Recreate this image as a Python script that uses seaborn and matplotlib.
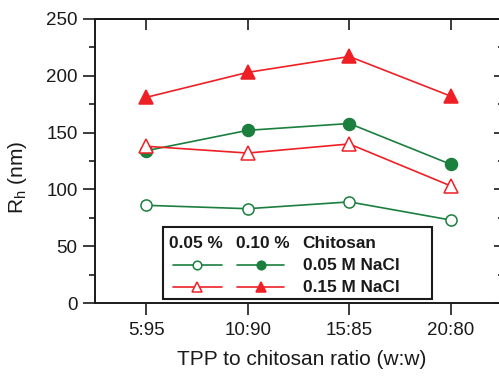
import matplotlib
matplotlib.use("Agg")
import matplotlib.pyplot as plt
from matplotlib.patches import Rectangle
from matplotlib.lines import Line2D
from matplotlib.ticker import MultipleLocator
import seaborn as sns
import pandas as pd

# TPP:chitosan mass ratios and hydrodynamic radius (nm)
ratios = ["5:95", "10:90", "15:85", "20:80"]
rh_005_chit_005_nacl = [86, 83, 89, 73]     # 0.05 % chitosan, 0.05 M NaCl
rh_010_chit_005_nacl = [134, 152, 158, 122]  # 0.10 % chitosan, 0.05 M NaCl
rh_005_chit_015_nacl = [138, 132, 140, 103]  # 0.05 % chitosan, 0.15 M NaCl
rh_010_chit_015_nacl = [181, 203, 217, 182]  # 0.10 % chitosan, 0.15 M NaCl

GREEN = "#1b7f3e"
RED = "#ee2026"
INK = "#1a1a1a"

sns.set_style("ticks")
plt.rcParams["font.family"] = ["Liberation Sans", "DejaVu Sans"]
plt.rcParams.update({
    "axes.linewidth": 1.4,
    "axes.edgecolor": INK,
    "axes.labelcolor": INK,
    "text.color": INK,
    "xtick.color": INK,
    "ytick.color": INK,
})

fig = plt.figure(figsize=(4.99, 3.80), dpi=100)
ax = fig.add_axes([95.2 / 499, 77 / 380, 406.6 / 499, 284 / 380])

series = [
    (rh_005_chit_005_nacl, "o", GREEN, "white", 8.0),
    (rh_010_chit_005_nacl, "o", GREEN, GREEN, 8.6),
    (rh_005_chit_015_nacl, "^", RED, "white", 9.5),
    (rh_010_chit_015_nacl, "^", RED, RED, 9.5),
]
for vals, mk, col, face, ms in series:
    df = pd.DataFrame({"ratio": ratios, "rh": vals})
    sns.lineplot(data=df, x="ratio", y="rh", ax=ax, color=col, lw=1.2,
                 marker=mk, markersize=ms, markerfacecolor=face,
                 markeredgecolor=col, markeredgewidth=1.1, sort=False)

ax.set_xlim(-0.5, 3.5)
ax.set_ylim(0, 250)
ax.set_xticks(range(len(ratios)))
ax.set_xticklabels(ratios)
ax.yaxis.set_major_locator(MultipleLocator(50))
ax.yaxis.set_minor_locator(MultipleLocator(25))

for s in ["left", "bottom", "top", "right"]:
    ax.spines[s].set_visible(True)

ax.tick_params(axis="x", which="major", direction="out", length=8.6, width=1.2,
               labelsize=13.5, pad=5, bottom=True, top=False)
ax.tick_params(axis="y", which="major", direction="out", length=8.6, width=1.2,
               labelsize=13.5, pad=4, left=True, right=False)
ax.tick_params(axis="y", which="minor", direction="out", length=4.3, width=1.2,
               left=True, right=False)

# inward ticks on the top and right edges
top = ax.secondary_xaxis("top")
top.set_xticks(range(len(ratios)))
top.set_xticklabels([])
top.tick_params(direction="in", length=8, width=1.2)
top.spines["top"].set_linewidth(1.4)

right = ax.secondary_yaxis("right")
right.yaxis.set_major_locator(MultipleLocator(50))
right.yaxis.set_minor_locator(MultipleLocator(25))
right.set_yticklabels([])
right.tick_params(which="major", direction="in", length=6, width=1.2)
right.tick_params(which="minor", direction="in", length=3, width=1.2)

ax.set_xlabel("TPP to chitosan ratio (w:w)", fontsize=15)
ax.set_ylabel("R$_\\mathregular{h}$ (nm)", fontsize=15)
ax.xaxis.set_label_coords(0.508, -0.165)
ax.yaxis.set_label_coords(-0.163, 0.444)

# legend box with concentration columns
tr = ax.transAxes
def px(x, y):
    return ((x - 95.2) / 406.6, (303 - y) / 284)

x0, y0 = px(163, 299)
x1, y1 = px(432, 227)
ax.add_patch(Rectangle((x0, y0), x1 - x0, y1 - y0, transform=tr, fill=True,
                       facecolor="white", edgecolor=INK, lw=1.5, zorder=5))

for txt, xp in [("0.05 %", 169), ("0.10 %", 236), ("Chitosan", 302)]:
    ax.text(*px(xp, 243), txt, transform=tr, fontsize=12.4, fontweight="bold",
            va="center", ha="left", zorder=6)
for txt, yp in [("0.05 M NaCl", 266), ("0.15 M NaCl", 288)]:
    ax.text(*px(303, yp), txt, transform=tr, fontsize=12.4, fontweight="bold",
            va="center", ha="left", zorder=6)

legend_rows = [
    (265, "o", GREEN, 6.2),
    (287, "^", RED, 7.2),
]
for yp, mk, col, ms in legend_rows:
    for (xa, xb, xm), face in [((173, 222, 197), "white"), ((237, 284, 261), col)]:
        (ax_, ay), (bx, by) = px(xa, yp), px(xb, yp)
        ax.add_line(Line2D([ax_, bx], [ay, by], transform=tr, color=col, lw=1.2, zorder=6))
        mx, my = px(xm, yp)
        ax.add_line(Line2D([mx], [my], transform=tr, marker=mk, ms=ms, color=col,
                           markerfacecolor=face, markeredgecolor=col, mew=1.1, zorder=7))

fig.savefig("out.png", dpi=100)
